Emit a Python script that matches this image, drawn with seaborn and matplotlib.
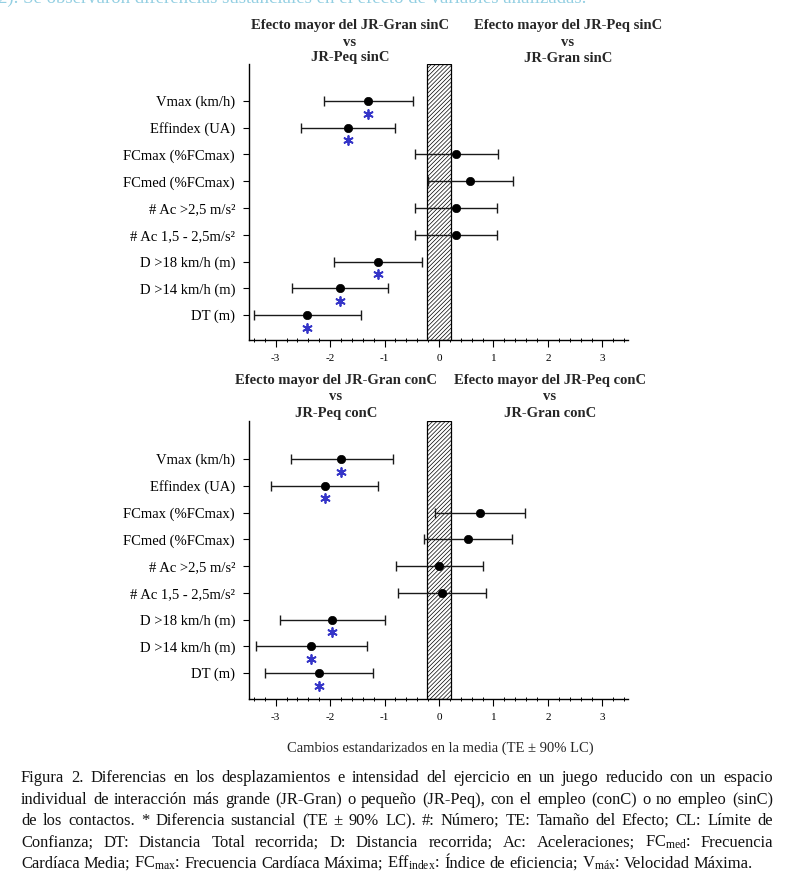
import math
import numpy as np
import pandas as pd
import matplotlib
matplotlib.use("Agg")
import matplotlib.pyplot as plt
import seaborn as sns
from matplotlib.font_manager import FontProperties

# ---------------- data ----------------
labels = ["Vmax (km/h)", "Effindex (UA)", "FCmax (%FCmax)", "FCmed (%FCmax)",
          "# Ac >2,5 m/s²", "# Ac 1,5 - 2,5m/s²", "D >18 km/h (m)",
          "D >14 km/h (m)", "DT (m)"]

sinC_te = [-1.31, -1.67, 0.32, 0.57, 0.31, 0.31, -1.13, -1.82, -2.42]
sinC_lo = [-2.12, -2.54, -0.44, -0.21, -0.45, -0.45, -1.93, -2.70, -3.40]
sinC_hi = [-0.47, -0.80, 1.08, 1.35, 1.07, 1.07, -0.31, -0.93, -1.44]
sinC_sig = [1, 1, 0, 0, 0, 0, 1, 1, 1]

conC_te = [-1.80, -2.10, 0.75, 0.54, 0.00, 0.05, -1.96, -2.35, -2.21]
conC_lo = [-2.72, -3.08, -0.07, -0.27, -0.79, -0.75, -2.92, -3.36, -3.19]
conC_hi = [-0.85, -1.12, 1.58, 1.34, 0.81, 0.86, -1.00, -1.33, -1.21]
conC_sig = [1, 1, 0, 0, 0, 0, 1, 1, 1]

trivial_band = [-0.22, 0.22]
x_ticks = [-3, -2, -1, 0, 1, 2, 3]
x_ticklabels = ["-3", "-2", "-1", "0", "1", "2", "3"]

top_titles = [["Efecto mayor del JR-Gran sinC", "vs", "JR-Peq sinC"],
              ["Efecto mayor del JR-Peq sinC", "vs", "JR-Gran sinC"]]
bot_titles = [["Efecto mayor del JR-Gran conC", "vs", "JR-Peq conC"],
              ["Efecto mayor del JR-Peq conC", "vs", "JR-Gran conC"]]
xlabel_text = "Cambios estandarizados en la media (TE ± 90% LC)"
header_text = "2). Se observaron diferencias sustanciales en el efecto de variables analizadas."
caption_lines = [
    "Figura 2. Diferencias en los desplazamientos e intensidad del ejercicio en un juego reducido con un espacio",
    "individual de interacción más grande (JR-Gran) o pequeño (JR-Peq), con el empleo (conC) o no empleo (sinC)",
    "de los contactos. * Diferencia sustancial (TE ± 90% LC). #: Número; TE: Tamaño del Efecto; CL: Límite de",
    r"Confianza; DT: Distancia Total recorrida; D: Distancia recorrida; Ac: Aceleraciones; FC$_{\mathrm{med}}$: Frecuencia",
    r"Cardíaca Media; FC$_{\mathrm{max}}$: Frecuencia Cardíaca Máxima; Eff$_{\mathrm{index}}$: Índice de eficiencia; V$_{\mathrm{máx}}$: Velocidad Máxima.",
]

# ---------------- style ----------------
sns.set_style("white")
plt.rcParams["font.family"] = "Liberation Serif"
plt.rcParams["mathtext.fontset"] = "custom"
plt.rcParams["mathtext.rm"] = "Liberation Serif"
plt.rcParams["mathtext.it"] = "Liberation Serif:italic"
plt.rcParams["mathtext.bf"] = "Liberation Serif:bold"
plt.rcParams["axes.unicode_minus"] = False
plt.rcParams["hatch.linewidth"] = 0.5

W, H = 793, 892
fig = plt.figure(figsize=(W / 100, H / 100), dpi=100)


def add_axes_px(l, t, r, b):
    return fig.add_axes([l / W, 1 - b / H, (r - l) / W, (b - t) / H])


def panel(ax, te, lo, hi, sig, ylim):
    y = np.arange(len(labels))
    te_a, lo_a, hi_a = np.array(te), np.array(lo), np.array(hi)
    df = pd.DataFrame({"label": labels, "te": te_a, "y": y, "sig": sig})
    ax.axvspan(trivial_band[0], trivial_band[1], facecolor="white",
               edgecolor="black", hatch="////////", lw=0.9, zorder=1)
    ax.errorbar(te_a, y, xerr=[te_a - lo_a, hi_a - te_a], fmt="none",
                ecolor="#1a1a1a", elinewidth=1.0, capsize=3.5, capthick=1.0,
                zorder=3)
    sns.scatterplot(data=df, x="te", y="y", color="black", s=36,
                    edgecolor="black", linewidth=0.5, zorder=4, ax=ax,
                    legend=False)
    sdf = df[df["sig"] == 1]
    ax.scatter(sdf["te"], sdf["y"] + 0.47, marker=(6, 2, 0), s=42,
               color="#3535c8", linewidths=1.3, zorder=4)
    ax.set_xlim(-3.49, 3.47)
    ax.set_ylim(*ylim)
    ax.set_yticks(y)
    ax.set_yticklabels(labels, fontsize=10.5)
    ax.set_xticks(x_ticks)
    ax.set_xticklabels(x_ticklabels, fontsize=8)
    ax.set_xticks(np.round(np.arange(-3.4, 3.41, 0.2), 2), minor=True)
    ax.set_xlabel("")
    ax.set_ylabel("")
    for s in ["top", "right"]:
        ax.spines[s].set_visible(False)
    for s in ["left", "bottom"]:
        ax.spines[s].set_color("black")
        ax.spines[s].set_linewidth(1.0)
    ax.tick_params(axis="y", which="major", left=True, length=4, width=0.8,
                   direction="out", pad=6, colors="black")
    ax.tick_params(axis="x", which="major", bottom=True, length=5, width=0.8,
                   direction="out", pad=5, colors="black")
    ax.tick_params(axis="x", which="minor", bottom=True, length=3, width=0.7,
                   direction="inout", colors="black")
    ax.set_facecolor("white")


ax1 = add_axes_px(249, 64, 628, 340)
panel(ax1, sinC_te, sinC_lo, sinC_hi, sinC_sig, (8.93, -1.38))
ax2 = add_axes_px(249, 421, 628, 699)
panel(ax2, conC_te, conC_lo, conC_hi, conC_sig, (8.97, -1.42))


def title_block(lines, cx, ys):
    for s, yy in zip(lines, ys):
        fig.text(cx / W, 1 - yy / H, s, ha="center", va="center",
                 fontsize=10.5, fontweight="bold")


title_block(top_titles[0], 350, [26, 43, 58])
title_block(top_titles[1], 568, [26, 43, 58])
title_block(bot_titles[0], 336, [381, 397, 413])
title_block(bot_titles[1], 550, [381, 397, 413])

fig.text(440 / W, 1 - 748 / H, xlabel_text, ha="center", va="center",
         fontsize=10.5)

# cut-off header line at the very top (only its lower part is visible)
fig.text(-2 / W, 1 - 3 / H, header_text, ha="left", va="baseline",
         fontsize=13.5, color="#93cfe2")

# ---------------- justified caption ----------------
renderer = fig.canvas.get_renderer()


def text_w(s, fs):
    t = fig.text(0, 0, s, fontsize=fs)
    w = t.get_window_extent(renderer).width
    t.remove()
    return w


def raster_shift(s, fs):
    """Integer pixel correction so that every word sits on the same baseline
    row after Agg rounds the glyph bitmap position."""
    if "$" in s:
        return 0
    fp = FontProperties(family="Liberation Serif", size=fs)
    _, h, d = renderer.get_text_width_height_descent(s, fp, ismath=False)
    return round(d) - math.floor(h) + math.floor(h - d)


L, R = 21, 773
fs = 11.9
for _ in range(30):
    ok = True
    for line in caption_lines[:-1]:
        words = line.split(" ")
        tot = sum(text_w(w, fs) for w in words) + 2.5 * (len(words) - 1)
        if tot > R - L:
            ok = False
            break
    if ok:
        break
    fs -= 0.1

space_w = text_w("a a", fs) - text_w("aa", fs)
baselines = [782, 804, 825, 847, 868]
for i, (line, base) in enumerate(zip(caption_lines, baselines)):
    words = line.split(" ")
    widths = [text_w(w, fs) for w in words]
    if i == len(caption_lines) - 1:
        gap = space_w
    else:
        gap = (R - L - sum(widths)) / (len(words) - 1)
    x = L
    for w, wd in zip(words, widths):
        yd = H - base + raster_shift(w, fs)
        fig.text(x / W, yd / H, w, ha="left", va="baseline", fontsize=fs,
                 color="#111111")
        x += wd + gap

fig.savefig("out.png", dpi=100, facecolor="white")
